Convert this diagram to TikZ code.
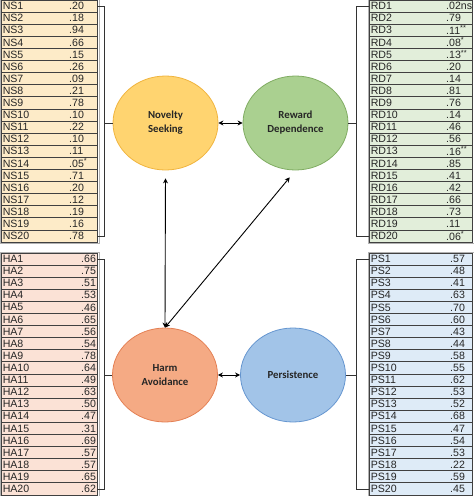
\documentclass[tikz,border=0pt]{standalone}
\usepackage{fontspec}
\setmainfont{Liberation Sans}
\newfontfamily\calibfont{Carlito}
\usetikzlibrary{positioning, arrows.meta, shapes.geometric, calc}
\definecolor{nsfill}{RGB}{253,235,200}
\definecolor{rdfill}{RGB}{226,238,218}
\definecolor{hafill}{RGB}{251,226,214}
\definecolor{psfill}{RGB}{222,235,247}
\definecolor{nsoval}{RGB}{255,212,112}
\definecolor{nsedge}{RGB}{240,180,62}
\definecolor{rdoval}{RGB}{170,208,144}
\definecolor{rdedge}{RGB}{128,172,98}
\definecolor{haoval}{RGB}{245,170,132}
\definecolor{haedge}{RGB}{228,128,84}
\definecolor{psoval}{RGB}{162,196,232}
\definecolor{psedge}{RGB}{102,150,208}
\tikzset{
    cell/.style={rectangle, draw=black!75, line width=0.9pt, fill=#1, minimum height=12.1pt, inner sep=0pt},
    itemlbl/.style={anchor=west, xshift=2pt, inner sep=0pt, font=\fontsize{10.6}{12}\selectfont, text=black!85},
    itemval/.style={anchor=west, inner sep=0pt, font=\fontsize{10.6}{12}\selectfont, text=black!85},
    tblframe/.style={draw=gray!60, line width=0.5pt},
    brk/.style={draw=black!80, line width=0.8pt},
    trait/.style 2 args={ellipse, fill=#1, draw=#2, line width=0.8pt, minimum width=105pt, minimum height=94pt, align=center, text=black!85, font=\calibfont\bfseries\fontsize{10.8}{14}\selectfont},
    dbl/.style={{Stealth[length=5pt, width=5pt]}-{Stealth[length=5pt, width=5pt]}, line width=0.9pt, black}
}
\begin{document}
\begin{tikzpicture}[x=1pt, y=-1pt]
    \useasboundingbox (0,0) rectangle (474,496);

    % Novelty Seeking items
    \foreach \i/\val in {1/.20,2/.18,3/.94,4/.66,5/.15,6/.26,7/.09,8/.21,9/.78,10/.10,11/.22,12/.10,13/.11,14/{.05\textsuperscript{*}},15/.71,16/.20,17/.12,18/.19,19/.16,20/.78}{
        \node[cell=nsfill, minimum width=96pt] (ns\i) at (49, {6.1+(\i-1)*12.1}) {};
        \node[itemlbl] at (ns\i.west) {NS\i};
        \node[itemval] at (69, {6.1+(\i-1)*12.1}) {\val};
    }
    \draw[tblframe] ($(ns1.north west)+(-0.5,-0.5)$) rectangle ($(ns20.south east)+(1.5,0.5)$);

    % Harm Avoidance items
    \foreach \i/\val in {1/.66,2/.75,3/.51,4/.53,5/.46,6/.65,7/.56,8/.54,9/.78,10/.64,11/.49,12/.63,13/.50,14/.47,15/.31,16/.69,17/.57,18/.57,19/.65,20/.62}{
        \node[cell=hafill, minimum width=96pt] (ha\i) at (49, {259+(\i-1)*12.1}) {};
        \node[itemlbl] at (ha\i.west) {HA\i};
        \node[itemval] at (81, {259+(\i-1)*12.1}) {\val};
    }
    \draw[tblframe] ($(ha1.north west)+(-0.5,-0.5)$) rectangle ($(ha20.south east)+(1.5,0.5)$);

    % Reward Dependence items
    \foreach \i/\val in {1/.02ns,2/.79,3/{.11\textsuperscript{**}},4/{.08\textsuperscript{*}},5/{.13\textsuperscript{**}},6/.20,7/.14,8/.81,9/.76,10/.14,11/.46,12/.56,13/{.16\textsuperscript{**}},14/.85,15/.41,16/.42,17/.66,18/.73,19/.11,20/{.06\textsuperscript{*}}}{
        \node[cell=rdfill, minimum width=103pt] (rd\i) at (420.5, {6.1+(\i-1)*12.1}) {};
        \node[itemlbl] at (rd\i.west) {RD\i};
        \node[itemval] at (446, {6.1+(\i-1)*12.1}) {\val};
    }
    \draw[tblframe] ($(rd1.north west)+(-0.5,-0.5)$) rectangle ($(rd20.south east)+(1.5,0.5)$);

    % Persistence items
    \foreach \i/\val in {1/.57,2/.48,3/.41,4/.63,5/.70,6/.60,7/.43,8/.44,9/.58,10/.55,11/.62,12/.53,13/.52,14/.68,15/.47,16/.54,17/.53,18/.22,19/.59,20/.45}{
        \node[cell=psfill, minimum width=103pt] (ps\i) at (420.5, {259+(\i-1)*12.1}) {};
        \node[itemlbl] at (ps\i.west) {PS\i};
        \node[itemval] at (450, {259+(\i-1)*12.1}) {\val};
    }
    \draw[tblframe] ($(ps1.north west)+(-0.5,-0.5)$) rectangle ($(ps20.south east)+(1.5,0.5)$);

    % Latent traits
    \node[trait={nsoval}{nsedge}] (NS) at (165.5, 123) {Novelty\\Seeking};
    \node[trait={rdoval}{rdedge}] (RD) at (295.5, 123) {Reward\\Dependence};
    \node[trait={haoval}{haedge}] (HA) at (165, 375) {Harm\\Avoidance};
    \node[trait={psoval}{psedge}] (PS) at (293, 375) {Persistence};

    % Brackets
    \coordinate (nsbrk) at ($(ns1.east)+(7,0)$);
    \coordinate (habrk) at ($(ha1.east)+(7,0)$);
    \coordinate (rdbrk) at ($(rd1.west)+(-12,0)$);
    \coordinate (psbrk) at ($(ps1.west)+(-12,0)$);
    \draw[brk] (ns1.east) -- (nsbrk) |- (ns20.east);
    \draw[brk] (NS.west) -- (NS.west -| nsbrk);
    \draw[brk] (ha1.east) -- (habrk) |- (ha20.east);
    \draw[brk] (HA.west) -- (HA.west -| habrk);
    \draw[brk] (rd1.west) -- (rdbrk) |- (rd20.west);
    \draw[brk] (RD.east) -- (RD.east -| rdbrk);
    \draw[brk] (ps1.west) -- (psbrk) |- (ps20.west);
    \draw[brk] (PS.east) -- (PS.east -| psbrk);

    % Correlations
    \draw[dbl] (NS) -- (RD);
    \draw[dbl] (HA) -- (PS);
    \draw[dbl, shorten <=8pt] (NS.south) -- (HA.north);
    \draw[dbl, shorten <=9pt] (RD.south) -- (HA.north);
\end{tikzpicture}
\end{document}
